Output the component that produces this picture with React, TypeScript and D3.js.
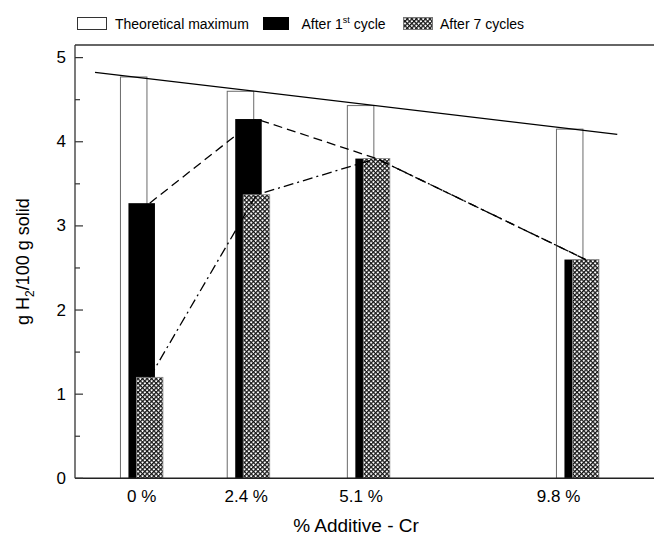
import React from "react";
import * as d3 from "d3";

const additive = [0, 2.4, 5.1, 9.8];
const categoryLabels = ["0 %", "2.4 %", "5.1 %", "9.8 %"];
const labelPositions = [0, 2.35, 4.93, 9.37];
const theoretical = [4.77, 4.6, 4.43, 4.15];
const firstCycle = [3.27, 4.27, 3.8, 2.6];
const sevenCycles = [1.2, 3.37, 3.8, 2.6];
const yTicks = [0, 1, 2, 3, 4, 5];
const yMinorTicks = [0.5, 1.5, 2.5, 3.5, 4.5];
const trendRange = [-1.05, 10.69];

const W = 654;
const H = 537;
const left = 75;
const top = 45;
const bottom = 478.3;
const right = 700;

export default function App() {
  const x = d3.scaleLinear().domain([0, 9.8]).range([141.7, 577.7]);
  const y = d3.scaleLinear().domain([0, 5.15]).range([bottom, top]);
  const barW = 26.5;
  const off = 8;

  // linear fit of theoretical maximum
  const mx = d3.mean(additive)!;
  const my = d3.mean(theoretical)!;
  const sxy = d3.sum(additive.map((a, i) => (a - mx) * (theoretical[i] - my)));
  const sxx = d3.sum(additive.map((a) => (a - mx) * (a - mx)));
  const slope = sxy / sxx;
  const icpt = my - slope * mx;
  const trend = trendRange.map((t) => [x(t), y(icpt + slope * t)] as [number, number]);

  const line = d3.line<[number, number]>();
  const dashedPts = additive.map((a, i) => [x(a) + off, y(firstCycle[i])] as [number, number]);
  const dashDotPts = additive.map((a, i) => [x(a) + off, y(sevenCycles[i])] as [number, number]);

  const font = "'Liberation Sans', Arial, sans-serif";

  return (
    <svg
      width={W}
      height={H}
      style={{ position: "absolute", left: 0, top: 0, background: "#fff" }}
      fontFamily={font}
    >
      <defs>
        <pattern
          id="xhatch"
          width={3.2}
          height={3.2}
          patternUnits="userSpaceOnUse"
          patternTransform="rotate(45)"
        >
          <rect width={3.2} height={3.2} fill="#fff" />
          <path d="M0,0.6 H3.2 M0.6,0 V3.2" stroke="#151515" strokeWidth={1.3} />
        </pattern>
      </defs>

      {/* legend */}
      <g fontSize={14}>
        <rect x={77.5} y={17.5} width={29} height={12} fill="#fff" stroke="#333" strokeWidth={1} />
        <text x={115} y={29}>Theoretical maximum</text>
        <rect x={263.5} y={17.5} width={25} height={12} fill="#000" stroke="#000" />
        <text x={301.5} y={29}>
          After 1<tspan fontSize={9} dy={-6}>st</tspan>
          <tspan dy={6}> cycle</tspan>
        </text>
        <rect x={403.5} y={17.5} width={29} height={12} fill="url(#xhatch)" stroke="#777" />
        <text x={440} y={29}>After 7 cycles</text>
      </g>

      {/* bars */}
      {additive.map((a, i) => (
        <g key={i}>
          <rect
            x={x(a) - off - barW / 2}
            y={y(theoretical[i])}
            width={barW}
            height={bottom - y(theoretical[i])}
            fill="#fff"
            stroke="#6a6a6a"
            strokeWidth={1}
          />
          <rect
            x={x(a) - barW / 2}
            y={y(firstCycle[i])}
            width={barW}
            height={bottom - y(firstCycle[i])}
            fill="#000"
          />
          <rect
            x={x(a) + off - barW / 2}
            y={y(sevenCycles[i])}
            width={barW}
            height={bottom - y(sevenCycles[i])}
            fill="url(#xhatch)"
            stroke="#8a8a8a"
            strokeWidth={0.8}
          />
        </g>
      ))}

      {/* connecting lines */}
      <path d={line(dashedPts)!} fill="none" stroke="#000" strokeWidth={1.3} strokeDasharray="9,5" />
      <path d={line(dashDotPts)!} fill="none" stroke="#000" strokeWidth={1.3} strokeDasharray="10,4,2,4" />
      <path d={line(trend)!} fill="none" stroke="#000" strokeWidth={1.3} />

      {/* frame */}
      <line x1={left} x2={right} y1={top} y2={top} stroke="#333" strokeWidth={1.3} />
      <line x1={left} x2={right} y1={bottom} y2={bottom} stroke="#222" strokeWidth={1.5} />
      <line x1={left} x2={left} y1={top} y2={bottom} stroke="#333" strokeWidth={1.3} />

      {/* y ticks */}
      {yTicks.map((t) => (
        <g key={"t" + t}>
          <line x1={left} x2={left + 8} y1={y(t)} y2={y(t)} stroke="#333" strokeWidth={1.2} />
          <text x={66} y={y(t)} textAnchor="end" dominantBaseline="central" fontSize={17}>
            {t}
          </text>
        </g>
      ))}
      {yMinorTicks.map((t) => (
        <line key={"m" + t} x1={left} x2={left + 5} y1={y(t)} y2={y(t)} stroke="#333" strokeWidth={1.2} />
      ))}

      {/* x labels */}
      {categoryLabels.map((lab, i) => (
        <text key={lab} x={x(labelPositions[i])} y={502} textAnchor="middle" fontSize={17}>
          {lab}
        </text>
      ))}

      {/* axis titles */}
      <text x={356} y={532} textAnchor="middle" fontSize={19}>
        % Additive - Cr
      </text>
      <text
        transform="translate(29,261.5) rotate(-90)"
        textAnchor="middle"
        fontSize={18}
      >
        g H<tspan fontSize={12} dy={5}>2</tspan>
        <tspan dy={-5}>/100 g solid</tspan>
      </text>
    </svg>
  );
}
